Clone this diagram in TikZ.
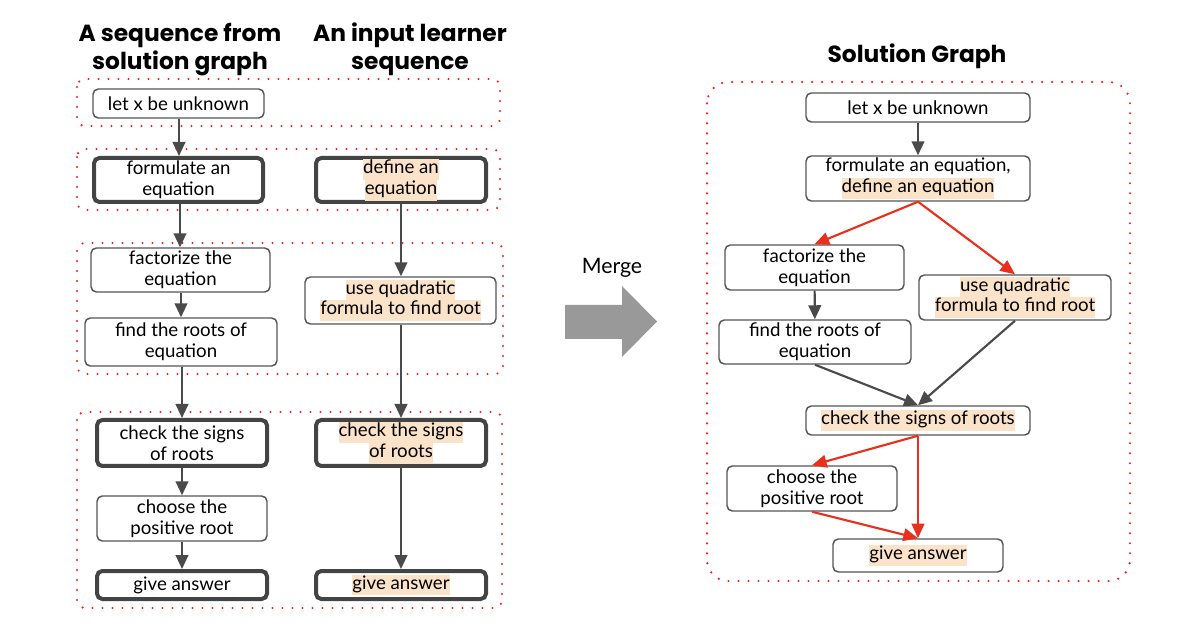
\documentclass[tikz,border=0pt]{standalone}
\usepackage{fontspec}
\setmainfont{Lato}
\newfontfamily\headfont{Poppins}
\usetikzlibrary{arrows.meta}
\definecolor{hlc}{HTML}{FBE3C9}
\definecolor{bordc}{HTML}{555555}
\definecolor{thickc}{HTML}{444444}
\definecolor{arrc}{HTML}{4A4A4A}
\definecolor{redarr}{HTML}{E8301C}
\definecolor{reddot}{HTML}{FF1A1A}
\definecolor{mergec}{HTML}{999999}
\newcommand\hl[1]{{\setlength{\fboxsep}{0pt}\colorbox{hlc}{\strut #1}}}
\newcommand\bodyfont{\fontsize{14}{15.5}\selectfont}
\tikzset{
  x=0.75pt, y=-0.75pt,
  rect/.style n args={4}{minimum width={(#3-#1)*0.75pt}, minimum height={(#4-#2)*0.75pt}, at={({(#1+#3)/2},{(#2+#4)/2})}},
  box/.style={draw=bordc, line width=1.1pt, rounded corners=4pt, inner sep=0pt, align=center, font=\bodyfont, text=black},
  heavybox/.style={box, draw=thickc, line width=3pt},
  garrow/.style={draw=arrc, line width=1.6pt, -{Triangle[length=10.5pt,width=9.5pt]}},
  rarrow/.style={draw=redarr, line width=1.6pt, -{Triangle[length=11pt,width=9.5pt]}},
  group/.style={draw=reddot, line width=1.8pt, line cap=round, dash pattern=on 0pt off 7.5pt, rounded corners=6pt},
  head/.style={font=\headfont\bfseries\fontsize{17.5}{21}\selectfont, align=center},
}
\begin{document}
\begin{tikzpicture}
\useasboundingbox (0,0) rectangle (1200,641);
% headings
\node[head] (h1) at (180,50) {A sequence from\\solution graph};
\node[head] (h2) at (410,49) {An input learner\\sequence};
\node[head] (h3) at (917,56) {Solution Graph};
% left groups
\draw[group] (77,79) rectangle (500,126);
\draw[group] (77,149) rectangle (500,210);
\draw[group] (77,243) rectangle (503,374);
\draw[group] (77,412) rectangle (502,608);
% left nodes
\node[box, rect={93}{89}{264}{118}] (n1) {let x be unknown};
\node[heavybox, rect={94}{158}{263}{202}] (n2) {formulate an\\equation};
\node[heavybox, rect={316}{158}{486}{202}] (n3) {\hl{define an}\\\hl{equation}};
\node[box, rect={91}{248}{270}{292}] (n4) {factorize the\\equation};
\node[box, rect={85}{318}{277}{366}] (n5) {find the roots of\\equation};
\node[box, rect={305}{277}{496}{324}] (n6) {\hl{use quadratic}\\\hl{formula to find root}};
\node[heavybox, rect={97}{420}{267}{466}] (n7) {check the signs\\of roots};
\node[box, rect={97}{496}{267}{541}] (n8) {choose the\\positive root};
\node[heavybox, rect={97}{571}{267}{599}] (n9) {give answer};
\node[heavybox, rect={316}{420}{486}{466}] (n10) {\hl{check the signs}\\\hl{of roots}};
\node[heavybox, rect={316}{571}{486}{599}] (n11) {\hl{give answer}};
% left arrows
\draw[garrow] (n1.south -| 179,0) -- (n2.north -| 179,0);
\draw[garrow] (n2.south -| 180,0) -- (n4.north -| 180,0);
\draw[garrow] (n4.south -| 181,0) -- (n5.north -| 181,0);
\draw[garrow] (n5.south -| 182,0) -- (n7.north -| 182,0);
\draw[garrow] (n7.south -| 182,0) -- (n8.north -| 182,0);
\draw[garrow] (n8.south -| 182,0) -- (n9.north -| 182,0);
\draw[garrow] (n3.south -| 401,0) -- (n6.north -| 401,0);
\draw[garrow] (n6.south -| 401,0) -- (n10.north -| 401,0);
\draw[garrow] (n10.south -| 401,0) -- (n11.north -| 401,0);
% merge
\node[font=\fontsize{16}{18}\selectfont] (mg) at (612,268) {Merge};
\fill[mergec] (565,305) -- (622,305) -- (622,286) -- (657,321.5) -- (622,357) -- (622,339) -- (565,339) -- cycle;
% right group
\draw[group, rounded corners=16pt] (707,82) rectangle (1130,581);
\node[box, rect={806}{93}{1030}{122}] (r1) {let x be unknown};
\node[box, rect={806}{156}{1030}{201}] (r2) {formulate an equation,\\\hl{define an equation}};
\node[box, rect={725}{245}{904}{290}] (r3) {factorize the\\equation};
\node[box, rect={919}{275}{1111}{320}] (r4) {\hl{use quadratic}\\\hl{formula to find root}};
\node[box, rect={719}{320}{911}{364}] (r5) {find the roots of\\equation};
\node[box, rect={806}{406}{1030}{435}] (r6) {\hl{check the signs of roots}};
\node[box, rect={727}{466}{897}{511}] (r7) {choose the\\positive root};
\node[box, rect={833}{539}{1003}{572}] (r8) {\hl{give answer}};
% right arrows
\draw[garrow] (r1) -- (r2);
\draw[rarrow] (r2.south) -- (r3.north);
\draw[rarrow] (r2.south) -- (r4.north);
\draw[garrow] (r3) -- (r5);
\draw[garrow] (r5.south) -- (r6.north);
\draw[garrow] (r4.south) -- (r6.north);
\draw[rarrow] (r6.south) -- (r7.north);
\draw[rarrow] (r6.south) -- (r8.north);
\draw[rarrow] (r7.south) -- (r8.north);
\end{tikzpicture}
\end{document}
